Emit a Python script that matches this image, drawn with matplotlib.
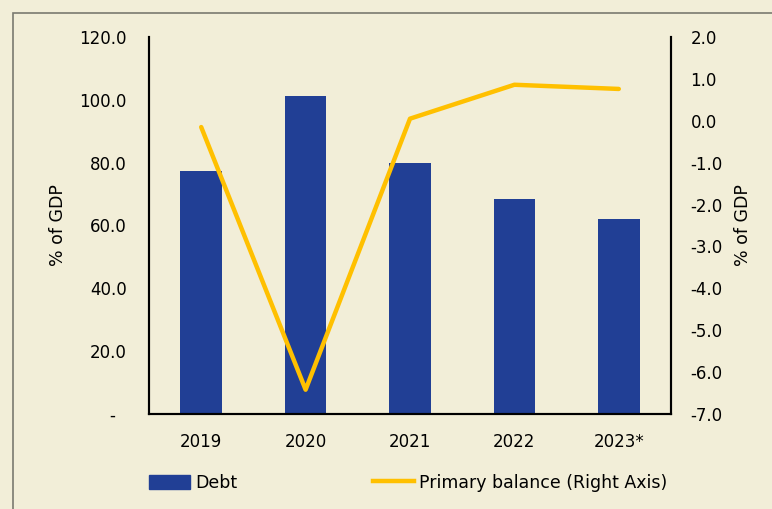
import matplotlib.pyplot as plt
import numpy as np
from matplotlib.patches import Rectangle
from matplotlib.lines import Line2D

plt.rcParams['font.family'] = ['DejaVu Sans']

years = ['2019', '2020', '2021', '2022', '2023*']
debt = [77.4, 101.2, 79.9, 68.4, 62.1]
primary_balance = [-0.15, -6.42, 0.05, 0.86, 0.76]

bg = '#F2EED8'
bar_col = '#213F95'
line_col = '#FFC000'

fig = plt.figure(figsize=(7.72, 5.09), dpi=100, facecolor=bg)
# outer frame (cropped at right/bottom in the original)
fig.patches.append(Rectangle((13 / 772, -0.1), 1.2, 1 - 13 / 509 + 0.1,
                             transform=fig.transFigure, fill=False,
                             edgecolor='#7a7a70', linewidth=1.2))

ax = fig.add_axes([149 / 772, 1 - 414 / 509, (671 - 149) / 772, (414 - 37) / 509])
ax.set_facecolor(bg)
x = np.arange(len(years))
ax.bar(x, debt, width=0.4, color=bar_col, zorder=2)
ax.set_xlim(-0.5, len(years) - 0.5)
ax.set_ylim(0, 120)
ax.set_yticks(np.arange(0, 121, 20))
ax.set_yticklabels(['-  '] + ['%.1f' % v for v in np.arange(20, 121, 20)])
ax.set_xticks(x)
ax.set_xticklabels(years)
ax.tick_params(axis='both', length=0, labelsize=12)
ax.tick_params(axis='y', pad=16)
ax.tick_params(axis='x', pad=14)
ax.set_ylabel('% of GDP', fontsize=12.5, labelpad=9)
ax.spines['top'].set_visible(False)
for s in ['left', 'bottom', 'right']:
    ax.spines[s].set_linewidth(1.5)

ax2 = ax.twinx()
ax2.plot(x, primary_balance, color=line_col, linewidth=3.2, solid_capstyle='round', zorder=3)
ax2.set_ylim(-7, 2)
ax2.set_yticks(np.arange(-7, 3, 1))
ax2.set_yticklabels(['%.1f' % v for v in np.arange(-7, 3, 1)])
ax2.tick_params(axis='y', length=0, labelsize=12, pad=14)
ax2.set_ylabel('% of GDP', fontsize=12.5, rotation=90, labelpad=8)
ax2.spines['top'].set_visible(False)
for s in ['left', 'bottom', 'right']:
    ax2.spines[s].set_linewidth(1.5)

handles = [Rectangle((0, 0), 1, 1, color=bar_col),
           Line2D([0], [0], color=line_col, linewidth=3.2)]
fig.legend(handles, ['Debt', 'Primary balance (Right Axis)'], loc='center',
           bbox_to_anchor=(0.529, 1 - 483 / 509), ncol=2, frameon=False,
           fontsize=12.5, columnspacing=7.8, handlelength=2.35, handleheight=0.9,
           handletextpad=0.3)

fig.savefig('out.png', dpi=100, facecolor=bg)
